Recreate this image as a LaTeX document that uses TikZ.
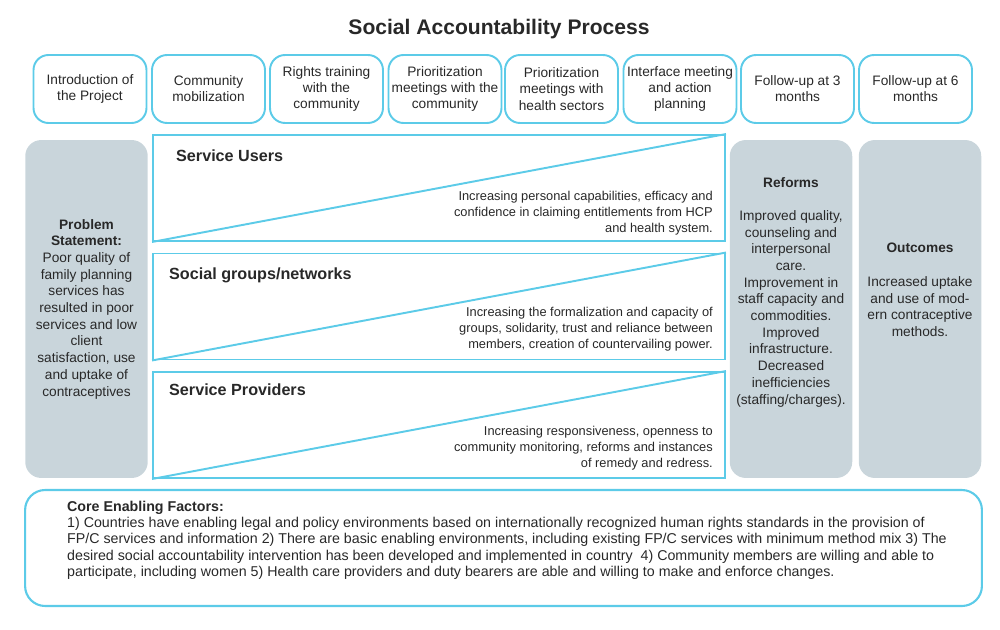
\documentclass[tikz,border=0pt]{standalone}
\usepackage{fontspec}
\setmainfont{Liberation Sans}
\usetikzlibrary{positioning}
\definecolor{acline}{RGB}{92,203,232}
\definecolor{acgray}{RGB}{201,213,219}
\definecolor{actext}{RGB}{40,40,40}

\begin{document}
\begin{tikzpicture}[x=0.02cm,y=-0.02cm,
  stage/.style={draw=acline,line width=1.1pt,rounded corners=0.3cm,
    minimum width=2.26cm,minimum height=1.36cm,align=center,inner sep=1pt,
    text=actext,font=\fontsize{7.8}{9.2}\selectfont},
  sidebox/.style={fill=acgray,rounded corners=0.32cm,
    minimum width=2.45cm,minimum height=6.76cm},
  sidetext/.style={align=center,text=actext,font=\fontsize{7.8}{9.5}\selectfont},
  level/.style={draw=acline,line width=1.1pt,minimum width=11.44cm,minimum height=2.12cm},
  levelname/.style={anchor=west,text=actext,font=\fontsize{9.2}{11}\selectfont\bfseries},
  leveltext/.style={anchor=east,align=right,text=actext,font=\fontsize{7.3}{9}\selectfont}]
  \useasboundingbox (0,0) rectangle (1000,629);

  \node[text=actext,font=\fontsize{12}{14}\selectfont\bfseries] (title) at (499,29)
       {Social Accountability Process};

  \node[stage] (intro) at (90,89) {Introduction of\\the Project};
  \node[stage] (mobil) at (208.5,89) {Community\\mobilization};
  \node[stage] (rights) at (326.5,89) {Rights training\\with the\\community};
  \node[stage] (priocom) at (445,89) {Prioritization\\meetings with the\\community};
  \node[stage] (priohs) at (561.5,89) {Prioritization\\meetings with\\health sectors};
  \node[stage] (iface) at (680,89) {Interface meeting\\and action\\planning};
  \node[stage] (follow3) at (797.5,89) {Follow-up at 3\\months};
  \node[stage] (follow6) at (915.5,89) {Follow-up at 6\\months};

  \node[sidebox] (problem) at (86.5,309) {};
  \node[sidetext] (problemtxt) at (86.5,309)
       {\textbf{Problem}\\\textbf{Statement:}\\Poor quality of\\family planning\\services has\\
        resulted in poor\\services and low\\client\\satisfaction, use\\and uptake of\\contraceptives};

  \node[level] (users) at (439,188) {};
  \node[level] (groups) at (439,306.5) {};
  \node[level] (providers) at (439,425) {};
  \draw[acline,line width=1.1pt] (users.south west) -- (users.north east);
  \draw[acline,line width=1.1pt] (groups.south west) -- (groups.north east);
  \draw[acline,line width=1.1pt] (providers.south west) -- (providers.north east);

  \node[levelname] (usersname) at (170,156) {Service Users};
  \node[levelname] (groupsname) at (163,275) {Social groups/networks};
  \node[levelname] (providersname) at (163,390) {Service Providers};

  \node[leveltext] (userstxt) at (719,213)
       {Increasing personal capabilities, efficacy and\\confidence in claiming entitlements from HCP\\and health system.};
  \node[leveltext] (groupstxt) at (719,329)
       {Increasing the formalization and capacity of\\groups, solidarity, trust and reliance between\\members, creation of countervailing power.};
  \node[leveltext] (providerstxt) at (719,448)
       {Increasing responsiveness, openness to\\community monitoring, reforms and instances\\of remedy and redress.};

  \node[sidebox] (reforms) at (791,309) {};
  \node[sidetext] (reformstxt) at (791,292)
       {\textbf{Reforms}\\[9.5pt]Improved quality,\\counseling and\\interpersonal\\care.\\Improvement in\\
        staff capacity and\\commodities.\\Improved\\infrastructure.\\Decreased\\inefficiencies\\(staffing/charges).};
  \node[sidebox] (outcomes) at (920,309) {};
  \node[sidetext] (outcomestxt) at (920,290)
       {\textbf{Outcomes}\\[9.5pt]Increased uptake\\and use of mod-\\ern contraceptive\\methods.};

  \node[draw=acline,line width=1.2pt,rounded corners=0.4cm,minimum width=19.14cm,
        minimum height=2.32cm] (core) at (503.5,548) {};
  \node[anchor=west,align=left,text=actext,font=\fontsize{8.1}{9.3}\selectfont] (coretxt) at (61,540)
       {\textbf{Core Enabling Factors:}\\
        1) Countries have enabling legal and policy environments based on internationally recognized human rights standards in the provision of\\
        FP/C services and information 2) There are basic enabling environments, including existing FP/C services with minimum method mix 3) The\\
        desired social accountability intervention has been developed and implemented in country\ \ 4) Community members are willing and able to\\
        participate, including women 5) Health care providers and duty bearers are able and willing to make and enforce changes.};
\end{tikzpicture}
\end{document}
